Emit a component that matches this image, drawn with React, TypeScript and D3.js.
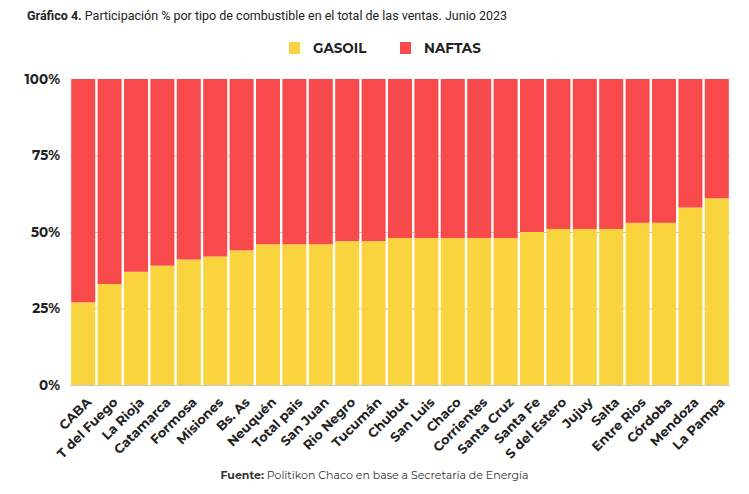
import React, { useRef, useEffect } from "react";
import { select, scaleLinear, scaleBand, axisLeft, axisBottom } from "d3";

const provinces = [
  "CABA", "T del Fuego", "La Rioja", "Catamarca", "Formosa", "Misiones",
  "Bs. As", "Neuquén", "Total pais", "San Juan", "Rio Negro", "Tucumán",
  "Chubut", "San Luis", "Chaco", "Corrientes", "Santa Cruz", "Santa Fe",
  "S del Estero", "Jujuy", "Salta", "Entre Rios", "Córdoba", "Mendoza",
  "La Pampa",
];

// % gasoil share; naftas is the rest up to 100
const gasoil = [
  27, 33, 37, 39, 41, 42, 44, 46, 46, 46, 47, 47, 48, 48, 48, 48, 48, 50,
  51, 51, 51, 53, 53, 58, 61,
];

const yTicks = [0, 25, 50, 75, 100];

const seriesNames = ["GASOIL", "NAFTAS"];
const seriesColors = ["#f9d43f", "#f94a4b"];

const FONT = "Montserrat, 'Open Sans', sans-serif";

const App: React.FC = () => {
  const d3Element = useRef<HTMLDivElement>(null);

  const renderD3 = () => {
    const width = 749,
      height = 494;
    const svg = select(d3Element.current)
      .append("svg")
      .attr("width", width)
      .attr("height", height)
      .style("display", "block")
      .style("background", "#fff");

    const margin = { top: 79, right: 19, bottom: 109, left: 70 };
    const innerWidth = width - margin.left - margin.right;
    const innerHeight = height - margin.top - margin.bottom;

    const xScale = scaleBand()
      .domain(provinces)
      .range([0, innerWidth])
      .paddingInner(0.09)
      .paddingOuter(0.045);

    const yScale = scaleLinear().domain([0, 100]).range([innerHeight, 0]);

    const data = provinces.map((p, i) => ({ name: p, gas: gasoil[i] }));

    // title
    const title = svg
      .append("text")
      .attr("x", 27)
      .attr("y", 20)
      .attr("font-family", "Roboto, sans-serif")
      .attr("font-size", 12.5)
      .attr("fill", "#222");
    title.append("tspan").attr("font-weight", 700).text("Gráfico 4.");
    title
      .append("tspan")
      .text(" Participación % por tipo de combustible en el total de las ventas. Junio 2023");

    // legend
    const legendX = [289, 400];
    seriesNames.forEach((s, i) => {
      svg
        .append("rect")
        .attr("x", legendX[i])
        .attr("y", 42)
        .attr("width", 11)
        .attr("height", 12)
        .attr("fill", seriesColors[i]);
      svg
        .append("text")
        .attr("x", legendX[i] + 24)
        .attr("y", 53)
        .attr("font-family", FONT)
        .attr("font-weight", 700)
        .attr("font-size", 13.5)
        .attr("fill", "#222")
        .text(s);
    });

    const g: any = svg
      .append("g")
      .attr("transform", `translate(${margin.left},${margin.top})`);

    // gridlines
    g.append("g")
      .call(
        axisLeft(yScale)
          .tickValues(yTicks.slice(0, 4))
          .tickSize(-innerWidth)
          .tickFormat(() => "")
      )
      .call((a: any) => a.select(".domain").remove())
      .call((a: any) => a.selectAll("line").attr("stroke", "#c8c8c8"));

    // y labels
    const yAxisG = g
      .append("g")
      .call(
        axisLeft(yScale)
          .tickValues(yTicks)
          .tickSize(0)
          .tickPadding(10)
          .tickFormat((d: any) => d + "%")
      );
    yAxisG.select(".domain").remove();
    yAxisG
      .selectAll("text")
      .attr("font-family", FONT)
      .attr("font-weight", 700)
      .attr("font-size", 13.5)
      .attr("fill", "#222");

    // bars
    g.selectAll(".gas")
      .data(data)
      .enter()
      .append("rect")
      .attr("x", (d: any) => xScale(d.name))
      .attr("y", (d: any) => yScale(d.gas))
      .attr("width", xScale.bandwidth())
      .attr("height", (d: any) => innerHeight - yScale(d.gas))
      .attr("fill", seriesColors[0]);

    g.selectAll(".naf")
      .data(data)
      .enter()
      .append("rect")
      .attr("x", (d: any) => xScale(d.name))
      .attr("y", yScale(100))
      .attr("width", xScale.bandwidth())
      .attr("height", (d: any) => yScale(d.gas) - yScale(100))
      .attr("fill", seriesColors[1]);

    // x labels
    const xAxisG = g
      .append("g")
      .attr("transform", `translate(0,${innerHeight})`)
      .call(axisBottom(xScale).tickSize(0).tickPadding(0));
    xAxisG.select(".domain").remove();
    xAxisG
      .selectAll("text")
      .attr("font-family", FONT)
      .attr("font-weight", 700)
      .attr("font-size", 13)
      .attr("fill", "#222")
      .style("text-anchor", "end")
      .attr("dy", "0")
      .attr("transform", "translate(9,18) rotate(-45)");

    // source
    const src = svg
      .append("text")
      .attr("x", width / 2)
      .attr("y", 479)
      .attr("text-anchor", "middle")
      .attr("font-family", FONT)
      .attr("font-size", 11)
      .attr("fill", "#333");
    src.append("tspan").attr("font-weight", 700).text("Fuente:");
    src.append("tspan").text(" Politikon Chaco en base a Secretaría de Energía");
  };

  useEffect(() => {
    document.body.style.margin = "0";
    select(d3Element.current).selectAll("svg").remove();
    renderD3();
  }, []);

  return <div ref={d3Element}></div>;
};

export default App;
